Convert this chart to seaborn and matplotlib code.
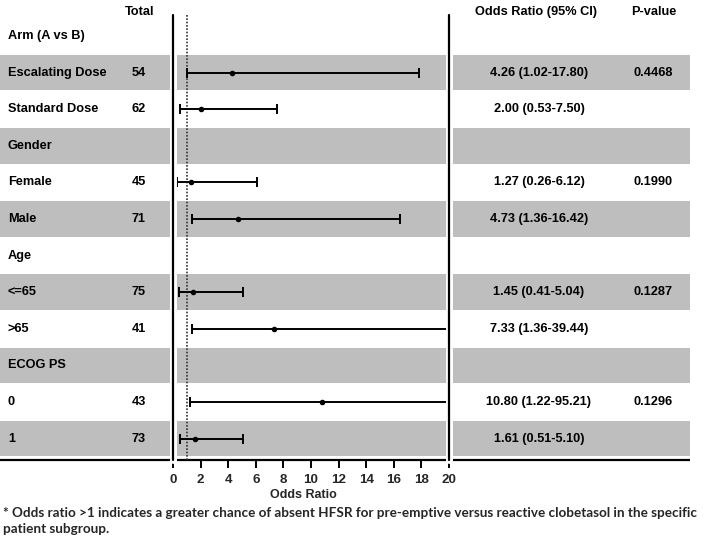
import matplotlib
matplotlib.use("Agg")
import matplotlib.pyplot as plt
import matplotlib.patheffects as pe
import seaborn as sns
import pandas as pd
import numpy as np

sns.set_theme(style="white")
plt.rcParams['font.family'] = ['Liberation Sans', 'DejaVu Sans']

# ---- data ----
row_labels = ["Arm (A vs B)", "Escalating Dose", "Standard Dose", "Gender", "Female", "Male",
              "Age", "<=65", ">65", "ECOG PS", "0", "1"]
totals = ["", "54", "62", "", "45", "71", "", "75", "41", "", "43", "73"]
or_est = [None, 4.26, 2.00, None, 1.27, 4.73, None, 1.45, 7.33, None, 10.80, 1.61]
ci_low = [None, 1.02, 0.53, None, 0.26, 1.36, None, 0.41, 1.36, None, 1.22, 0.51]
ci_high = [None, 17.80, 7.50, None, 6.12, 16.42, None, 5.04, 39.44, None, 95.21, 5.10]
or_text = ["", "4.26 (1.02-17.80)", "2.00 (0.53-7.50)", "", "1.27 (0.26-6.12)", "4.73 (1.36-16.42)",
           "", "1.45 (0.41-5.04)", "7.33 (1.36-39.44)", "", "10.80 (1.22-95.21)", "1.61 (0.51-5.10)"]
p_values = ["", "0.4468", "", "", "0.1990", "", "", "0.1287", "", "", "0.1296", ""]
shaded = [False, True, False, True, False, True, False, True, False, True, False, True]
x_ticks = list(range(0, 21, 2))
footnote = ("* Odds ratio >1 indicates a greater chance of absent HFSR for pre-emptive versus reactive "
            "clobetasol in the specific\npatient subgroup.")

# ---- layout (pixels) ----
W, H = 709, 541
row0, step = 36.0, 36.6
x0_px, x20_px = 173, 449
top_px, bot_px = 15, 460

fig = plt.figure(figsize=(W / 100, H / 100), dpi=100)
bg = fig.add_axes([0, 0, 1, 1])
bg.set_xlim(0, W)
bg.set_ylim(H, 0)
bg.axis("off")

band_color = "#bebebe"
for i, s in enumerate(shaded):
    yc = row0 + step * i
    if s:
        bg.add_patch(plt.Rectangle((0, yc - step / 2 + 0.5), 690, step - 1,
                                   facecolor=band_color, edgecolor="none", zorder=0))

bold = dict(fontweight="bold", fontsize=9.2, color="black", va="center")
bg.text(140, 12, "Total", ha="center", **bold)
bg.text(536, 12, "Odds Ratio (95% CI)", ha="center", **bold)
bg.text(654, 12, "P-value", ha="center", **bold)
for i in range(len(row_labels)):
    yc = row0 + step * i
    bg.text(8, yc, row_labels[i], ha="left", **bold)
    if totals[i]:
        bg.text(139, yc, totals[i], ha="center", **bold)
    if or_text[i]:
        bg.text(539, yc, or_text[i], ha="center", **bold)
    if p_values[i]:
        bg.text(653, yc, p_values[i], ha="center", **bold)

# bottom axis line
bg.plot([0, 690], [bot_px, bot_px], color="black", lw=1.6, solid_capstyle="butt", zorder=2)

bg.text(303, 495, "Odds Ratio", ha="center", va="center", fontsize=9, fontweight="bold")
bg.text(3, 521, footnote, ha="left", va="center", fontsize=9.7, fontweight="bold",
        family=["Lato", "DejaVu Sans"], linespacing=1.4)

# ---- forest axes ----
ax = fig.add_axes([x0_px / W, (H - bot_px) / H, (x20_px - x0_px) / W, (bot_px - top_px) / H])
ax.patch.set_alpha(0)
for sp in ax.spines.values():
    sp.set_visible(False)

df = pd.DataFrame({"row": np.arange(len(row_labels)), "est": or_est, "lo": ci_low, "hi": ci_high}).dropna()
df = df.astype(float)

ax.errorbar(df["est"], df["row"], xerr=[df["est"] - df["lo"], df["hi"] - df["est"]],
            fmt="none", ecolor="black", elinewidth=1.4, capsize=3.5, capthick=1.4, zorder=3)
sns.scatterplot(data=df, x="est", y="row", color="black", s=16, edgecolor="black",
                linewidth=0, ax=ax, zorder=4, legend=False)

white_halo = [pe.Stroke(linewidth=5, foreground="white"), pe.Normal()]
for xv in (0, 20):
    ax.axvline(xv, color="black", lw=1.6, clip_on=False, zorder=5, path_effects=white_halo)
ax.axvline(1, color="#333333", lw=1.2, ls=(0, (1, 1)), zorder=2)

ax.set_xlim(0, 20)
ax.set_ylim((bot_px - row0) / step, (top_px - row0) / step)
ax.set_xticks(x_ticks)
ax.set_xticklabels([str(t) for t in x_ticks], fontweight="bold", fontsize=9.6)
ax.set_yticks([])
ax.set_xlabel("")
ax.set_ylabel("")
ax.tick_params(axis="x", bottom=True, length=6, width=1.4, color="black", pad=4, direction="out")

fig.savefig("out.png", dpi=100)
